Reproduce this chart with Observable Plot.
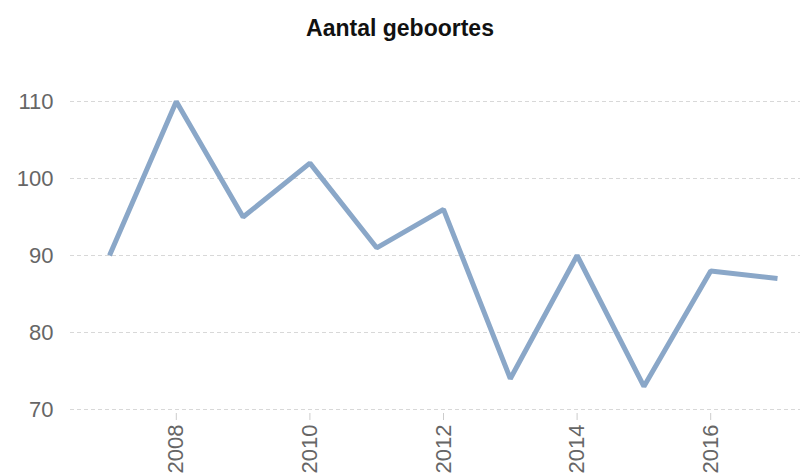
<!DOCTYPE html>
<html>
<head>
<meta charset="utf-8">
<script src="https://cdn.jsdelivr.net/npm/d3@7"></script>
<script src="https://cdn.jsdelivr.net/npm/@observablehq/plot@0.6"></script>
<style>
  html, body { margin: 0; padding: 0; background: #fff; }
  #wrap { width: 800px; height: 475px; overflow: hidden; font-family: Arial, "Liberation Sans", sans-serif; }
  #title { height: 44px; padding-top: 6px; line-height: 44px; text-align: center; font-weight: bold; font-size: 23px; color: #111; }
  svg { display: block; }
</style>
</head>
<body>
<div id="wrap">
  <div id="title">Aantal geboortes</div>
  <div id="chart"></div>
</div>
<script>
const years = [2007, 2008, 2009, 2010, 2011, 2012, 2013, 2014, 2015, 2016, 2017];
const births = [90, 110, 95, 102, 91, 96, 74, 90, 73, 88, 87];
const yTicks = [70, 80, 90, 100, 110];
const xTicks = [2008, 2010, 2012, 2014, 2016];

const data = years.map((y, i) => ({year: y, value: births[i]}));

const chart = Plot.plot({
  width: 800,
  height: 425,
  marginTop: 51,
  marginBottom: 66,
  marginLeft: 109,
  marginRight: 23,
  style: {fontFamily: "Arial, 'Liberation Sans', sans-serif", background: "#fff"},
  x: {domain: [2007, 2017]},
  y: {domain: [70, 110]},
  marks: [
    Plot.ruleY(yTicks, {stroke: "#d8d8d8", strokeWidth: 1, strokeDasharray: "4,3", insetLeft: -39, insetRight: -23}),
    Plot.axisY(yTicks, {tickSize: 0, tickPadding: 56, fontSize: 22, fill: "#666", label: null}),
    Plot.axisX(xTicks, {tickFormat: d => String(d), tickRotate: -90, tickSize: 7, tickPadding: 4, dy: 4, fontSize: 22, fill: "#666", stroke: "#ccc", label: null}),
    Plot.line(data, {x: "year", y: "value", stroke: "#8aa7c8", strokeWidth: 5, strokeLinejoin: "miter", strokeLinecap: "butt"})
  ]
});
document.getElementById("chart").appendChild(chart);
</script>
</body>
</html>
